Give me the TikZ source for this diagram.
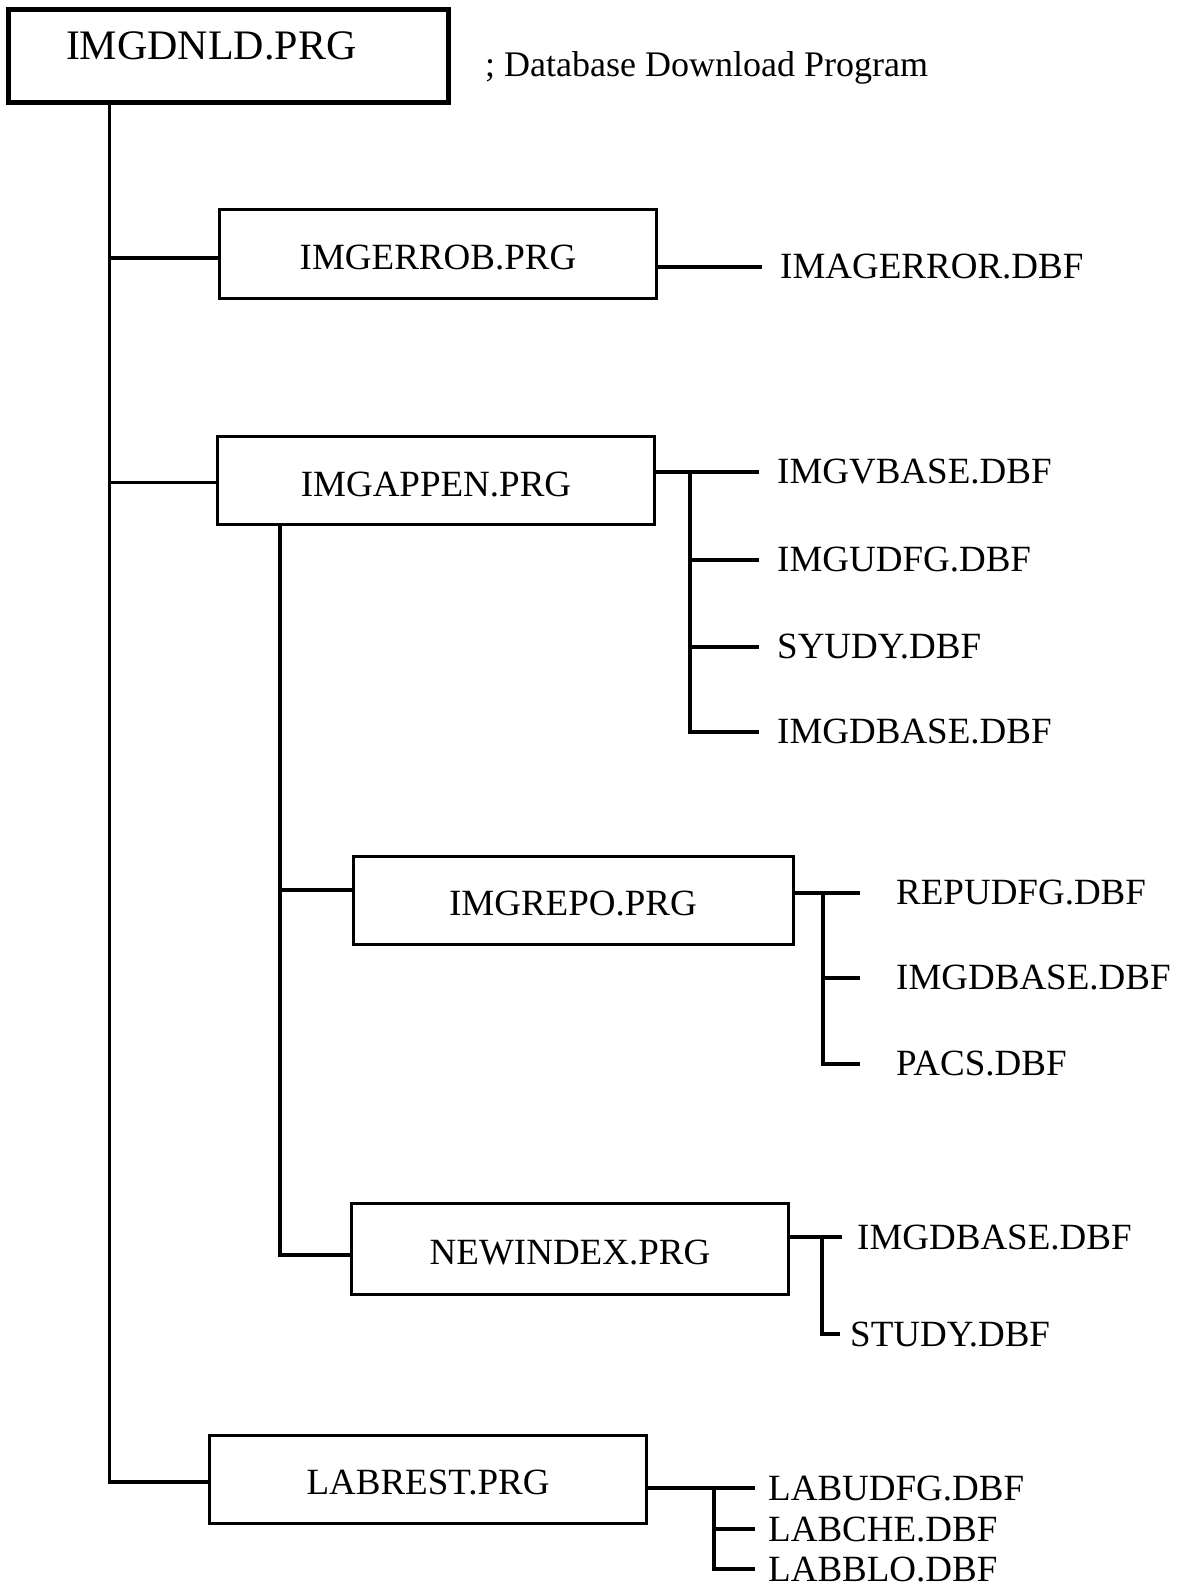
\documentclass[tikz,border=0pt]{standalone}
\usepackage{fontspec}
\setmainfont{Liberation Serif}
\newcommand{\boxfont}{\fontsize{37}{40}\selectfont}
\tikzset{
  wire/.style={line width=3.2pt},
  prgbox/.style={draw, line width=3pt, minimum width=437pt, minimum height=88pt, inner sep=0pt,
    text height=32pt, font=\boxfont},
  rootbox/.style={draw, line width=5pt, inner xsep=58pt, inner ysep=16pt, text width=324pt, align=left,
    text height=33.5pt, text depth=27.5pt, font=\fontsize{42}{45}\selectfont},
  dbf/.style={anchor=west, inner xsep=#1, inner ysep=0pt, font=\boxfont},
  dbf/.default=18pt
}
\begin{document}
\begin{tikzpicture}[x=1pt,y=-1pt]
  \useasboundingbox (0,0) rectangle (1180,1589);
  % program boxes
  \node[rootbox] (root) at (228,56.5) {IMGDNLD.PRG};
  \node[dbf=0pt, font=\fontsize{36}{40}\selectfont] (note) at (485,68) {; Database Download Program};
  \node[prgbox] (err) at (438,254) {IMGERROB.PRG};
  \node[prgbox] (app) at (436,480.5) {IMGAPPEN.PRG};
  \node[prgbox, minimum width=440pt] (repo) at (573,900) {IMGREPO.PRG};
  \node[prgbox, minimum height=91pt] (newx) at (570,1249) {NEWINDEX.PRG};
  \node[prgbox] (lab) at (428,1479) {LABREST.PRG};
  % database files
  \node[dbf] (e1) at (762,267) {IMAGERROR.DBF};
  \node[dbf] (a1) at (759,472) {IMGVBASE.DBF};
  \node[dbf] (a2) at (759,560) {IMGUDFG.DBF};
  \node[dbf] (a3) at (759,647) {SYUDY.DBF};
  \node[dbf] (a4) at (759,732) {IMGDBASE.DBF};
  \node[dbf=36pt] (r1) at (860,893) {REPUDFG.DBF};
  \node[dbf=36pt] (r2) at (860,978) {IMGDBASE.DBF};
  \node[dbf=36pt] (r3) at (860,1064) {PACS.DBF};
  \node[dbf=15pt] (n1) at (842,1237) {IMGDBASE.DBF};
  \node[dbf=10pt] (n2) at (840,1334) {STUDY.DBF};
  \node[dbf=13pt] (l1) at (755,1488) {LABUDFG.DBF};
  \node[dbf=13pt] (l2) at (755,1529) {LABCHE.DBF};
  \node[dbf=13pt] (l3) at (755,1569) {LABBLO.DBF};
  % trunks
  \coordinate (tk) at ([xshift=104pt]root.south west);
  \coordinate (sk) at ([xshift=64pt]app.south west);
  \coordinate (ew) at ([yshift=-4pt]err.west);
  \coordinate (aw) at ([yshift=-2pt]app.west);
  \coordinate (rw) at ([yshift=10pt]repo.west);
  \coordinate (nw) at ([yshift=-6pt]newx.west);
  \coordinate (lw) at ([yshift=-3pt]lab.west);
  \draw[wire] (tk) |- (lw);
  \draw[wire] (tk |- ew) -- (ew);
  \draw[wire] (tk |- aw) -- (aw);
  \draw[wire] (sk) |- (nw);
  \draw[wire] (sk |- rw) -- (rw);
  % branches to files
  \draw[wire] (err.east |- e1.west) -- (e1.west);
  \coordinate (aj) at (690,472);
  \draw[wire] (app.east |- a1.west) -- (a1.west);
  \draw[wire] (aj) |- (a4.west);
  \foreach \f in {a2,a3} \draw[wire] (aj |- \f.west) -- (\f.west);
  \coordinate (rj) at (823,893);
  \draw[wire] (repo.east |- r1.west) -- (r1.west);
  \draw[wire] (rj) |- (r3.west);
  \draw[wire] (rj |- r2.west) -- (r2.west);
  \coordinate (nj) at (822,1237);
  \draw[wire] (newx.east |- n1.west) -- (n1.west);
  \draw[wire] (nj) |- (n2.west);
  \coordinate (lj) at (714,1488);
  \draw[wire] (lab.east |- l1.west) -- (l1.west);
  \draw[wire] (lj) |- (l3.west);
  \draw[wire] (lj |- l2.west) -- (l2.west);
\end{tikzpicture}
\end{document}
